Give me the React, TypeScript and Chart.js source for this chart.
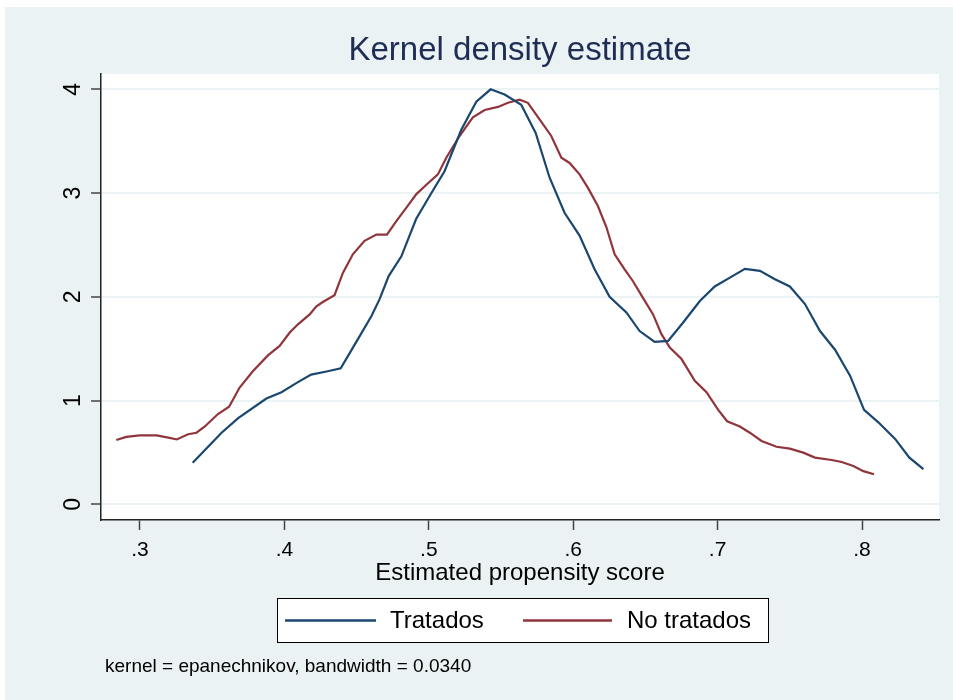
import React, { useEffect, useRef } from "react";
import { Chart, registerables } from "chart.js";

Chart.register(...registerables);

const chartTitle = "Kernel density estimate";
const xAxisTitle = "Estimated propensity score";
const noteText = "kernel = epanechnikov, bandwidth = 0.0340";
const seriesNames = ["Tratados", "No tratados"];

const xTicks = [0.3, 0.4, 0.5, 0.6, 0.7, 0.8];
const xTickLabels = [".3", ".4", ".5", ".6", ".7", ".8"];
const yTicks = [0, 1, 2, 3, 4];
const yTickLabels = ["0", "1", "2", "3", "4"];

const tratadosX = [0.3365, 0.3455, 0.3565, 0.368, 0.3875, 0.398, 0.4085, 0.4185, 0.4292, 0.439, 0.45, 0.4603, 0.466, 0.4722, 0.481, 0.4912, 0.5018, 0.5109, 0.5225, 0.5329, 0.5428, 0.5525, 0.564, 0.574, 0.5836, 0.594, 0.6044, 0.6148, 0.6252, 0.6368, 0.646, 0.6564, 0.6657, 0.676, 0.6877, 0.698, 0.7085, 0.7189, 0.7293, 0.7397, 0.75, 0.7605, 0.7709, 0.7813, 0.7917, 0.8014, 0.8113, 0.8229, 0.8328, 0.8425];
const tratadosY = [0.40, 0.53, 0.69, 0.83, 1.02, 1.08, 1.17, 1.25, 1.28, 1.31, 1.57, 1.815, 1.98, 2.2, 2.39, 2.75, 3.0, 3.21, 3.61, 3.88, 4.0, 3.95, 3.85, 3.58, 3.15, 2.81, 2.59, 2.265, 2.0, 1.85, 1.67, 1.565, 1.575, 1.75, 1.96, 2.1, 2.185, 2.27, 2.25, 2.17, 2.1, 1.93, 1.67, 1.49, 1.24, 0.91, 0.79, 0.63, 0.45, 0.34];

const noTratadosX = [0.2836, 0.2905, 0.2998, 0.3115, 0.3205, 0.3255, 0.3333, 0.3391, 0.3449, 0.354, 0.3617, 0.369, 0.3783, 0.3886, 0.3967, 0.4037, 0.4094, 0.4175, 0.422, 0.4266, 0.4347, 0.4405, 0.4474, 0.4555, 0.4637, 0.471, 0.4775, 0.4845, 0.4914, 0.4983, 0.5063, 0.5121, 0.5213, 0.5305, 0.5387, 0.5479, 0.5548, 0.5628, 0.5686, 0.5767, 0.5848, 0.5918, 0.5975, 0.6044, 0.6102, 0.6171, 0.623, 0.6287, 0.6356, 0.6414, 0.6483, 0.6553, 0.6611, 0.6669, 0.675, 0.6842, 0.6923, 0.7004, 0.7066, 0.7154, 0.7223, 0.7304, 0.7408, 0.75, 0.7593, 0.7674, 0.779, 0.7859, 0.794, 0.8009, 0.8083];
const noTratadosY = [0.62, 0.65, 0.665, 0.665, 0.64, 0.625, 0.675, 0.69, 0.75, 0.87, 0.94, 1.125, 1.285, 1.435, 1.526, 1.655, 1.735, 1.83, 1.905, 1.95, 2.015, 2.23, 2.41, 2.54, 2.6, 2.6, 2.73, 2.86, 2.99, 3.08, 3.18, 3.34, 3.55, 3.73, 3.80, 3.83, 3.87, 3.90, 3.87, 3.71, 3.55, 3.34, 3.29, 3.18, 3.05, 2.875, 2.67, 2.41, 2.265, 2.15, 1.99, 1.83, 1.64, 1.51, 1.40, 1.19, 1.08, 0.91, 0.80, 0.75, 0.69, 0.61, 0.555, 0.537, 0.498, 0.45, 0.427, 0.408, 0.37, 0.32, 0.29];

const FONT = "'Liberation Sans', Arial, Helvetica, sans-serif";
const BG = "#EAF2F3";
const BLUE = "#1A476F";
const RED = "#90353B";

const toPoints = (xs: number[], ys: number[]) => xs.map((x, i) => ({ x, y: ys[i] }));

const decorPlugin = {
  id: "stataDecor",
  beforeDraw(chart: any) {
    const { ctx, chartArea, width, height } = chart;
    ctx.save();
    ctx.fillStyle = "#ffffff";
    ctx.fillRect(0, 0, width, height);
    ctx.fillStyle = BG;
    ctx.fillRect(5, 7, width - 5, height - 7);
    ctx.fillStyle = "#ffffff";
    ctx.fillRect(chartArea.left, chartArea.top, chartArea.right - chartArea.left, chartArea.bottom - chartArea.top);
    ctx.restore();
  },
  afterDraw(chart: any) {
    const { ctx } = chart;
    const yScale = chart.scales.y;
    ctx.save();
    // y tick labels, rotated
    ctx.fillStyle = "#000";
    ctx.font = `23px ${FONT}`;
    ctx.textAlign = "center";
    ctx.textBaseline = "middle";
    yTicks.forEach((v, i) => {
      const py = yScale.getPixelForValue(v);
      ctx.save();
      ctx.translate(74, py);
      ctx.rotate(-Math.PI / 2);
      ctx.fillText(yTickLabels[i], 0, 0);
      ctx.restore();
    });

    // legend box
    const lx = 277, ly = 598, lw = 492, lh = 45;
    ctx.fillStyle = "#ffffff";
    ctx.fillRect(lx, ly, lw, lh);
    ctx.strokeStyle = "#000";
    ctx.lineWidth = 1;
    ctx.strokeRect(lx + 0.5, ly + 0.5, lw - 1, lh - 1);
    const cy = ly + lh / 2;
    const items = [
      { color: BLUE, x0: 285, x1: 376, tx: 390, label: seriesNames[0] },
      { color: RED, x0: 523, x1: 612, tx: 627, label: seriesNames[1] },
    ];
    ctx.font = `24px ${FONT}`;
    ctx.textAlign = "left";
    ctx.textBaseline = "middle";
    items.forEach((it) => {
      ctx.strokeStyle = it.color;
      ctx.lineWidth = 2.5;
      ctx.beginPath();
      ctx.moveTo(it.x0, cy);
      ctx.lineTo(it.x1, cy);
      ctx.stroke();
      ctx.fillStyle = "#000";
      ctx.fillText(it.label, it.tx, cy + 1);
    });

    // note
    ctx.font = `19px ${FONT}`;
    ctx.fillStyle = "#000";
    ctx.textAlign = "left";
    ctx.textBaseline = "middle";
    ctx.fillText(noteText, 105, 667);
    ctx.restore();
  },
};

export default function App() {
  const canvasRef = useRef<HTMLCanvasElement | null>(null);

  useEffect(() => {
    const canvas = canvasRef.current;
    if (!canvas) return;
    const chart = new Chart(canvas, {
      type: "line",
      data: {
        datasets: [
          {
            label: seriesNames[0],
            data: toPoints(tratadosX, tratadosY),
            borderColor: BLUE,
            backgroundColor: BLUE,
            borderWidth: 2.2,
            pointRadius: 0,
            tension: 0,
            fill: false,
          },
          {
            label: seriesNames[1],
            data: toPoints(noTratadosX, noTratadosY),
            borderColor: RED,
            backgroundColor: RED,
            borderWidth: 2.2,
            pointRadius: 0,
            tension: 0,
            fill: false,
          },
        ],
      },
      options: {
        responsive: false,
        animation: false,
        events: [],
        devicePixelRatio: 1,
        layout: { padding: { left: 0, right: 14, top: 0, bottom: 110 } },
        plugins: {
          legend: { display: false },
          tooltip: { enabled: false },
          title: {
            display: true,
            text: chartTitle,
            fullSize: false,
            color: "#1F2D55",
            font: { family: FONT, size: 33, weight: "normal" },
            padding: { top: 31, bottom: 3.4 },
          },
        },
        scales: {
          x: {
            type: "linear",
            min: 0.273,
            max: 0.8533,
            afterBuildTicks: (s: any) => {
              s.ticks = xTicks.map((v) => ({ value: v }));
            },
            afterFit: (s: any) => {
              s.height = 70;
            },
            ticks: {
              callback: (_v: any, i: number) => xTickLabels[i],
              color: "#000",
              font: { family: FONT, size: 21 },
              padding: 8,
              maxRotation: 0,
              minRotation: 0,
              autoSkip: false,
            },
            grid: {
              drawOnChartArea: false,
              drawTicks: true,
              tickLength: 10,
              tickColor: "#444",
              tickWidth: 1.5,
            },
            border: { color: "#222", width: 1.5 },
            title: {
              display: true,
              text: xAxisTitle,
              color: "#000",
              font: { family: FONT, size: 24 },
              padding: { top: 0, bottom: 2.6 },
            },
          },
          y: {
            type: "linear",
            min: -0.1513,
            max: 4.1475,
            afterBuildTicks: (s: any) => {
              s.ticks = yTicks.map((v) => ({ value: v }));
            },
            afterFit: (s: any) => {
              s.width = 101;
            },
            ticks: { display: false },
            grid: {
              color: BG,
              lineWidth: 2,
              drawTicks: true,
              tickLength: 10,
              tickColor: "#444",
              tickWidth: 1.5,
            },
            border: { color: "#222", width: 1.5 },
          },
        },
      },
      plugins: [decorPlugin],
    } as any);
    return () => chart.destroy();
  }, []);

  return (
    <div style={{ position: "fixed", left: 0, top: 0, width: 953, height: 700 }}>
      <canvas ref={canvasRef} width={953} height={700} style={{ display: "block", width: 953, height: 700 }} />
    </div>
  );
}
